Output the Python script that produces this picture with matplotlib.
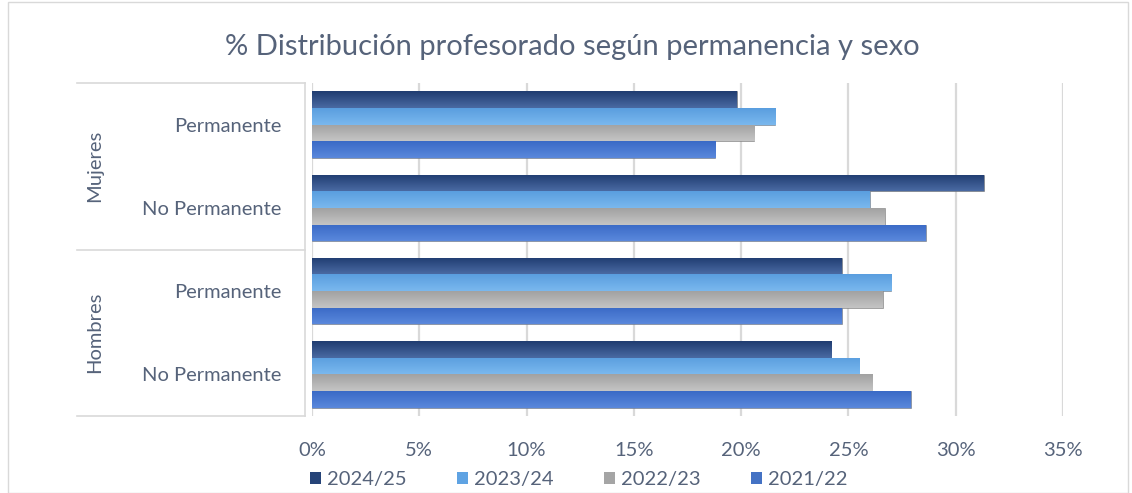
import numpy as np
import matplotlib.pyplot as plt
import matplotlib as mpl
from matplotlib.patches import Patch, Rectangle
from matplotlib.colors import LinearSegmentedColormap

plt.rcParams['font.family'] = ['Lato', 'DejaVu Sans']

# data (% of teaching staff)
groups = ['Mujeres', 'Hombres']
categories = ['Permanente', 'No Permanente', 'Permanente', 'No Permanente']
years = ['2024/25', '2023/24', '2022/23', '2021/22']
v_2024_25 = [19.8, 31.3, 24.7, 24.2]
v_2023_24 = [21.6, 26.0, 27.0, 25.5]
v_2022_23 = [20.6, 26.7, 26.6, 26.1]
v_2021_22 = [18.8, 28.6, 24.7, 27.9]
series = [v_2024_25, v_2023_24, v_2022_23, v_2021_22]

# (top colour, bottom colour) for the Excel-like gradient
colors = [('#4a6aa3', '#1f3c70'),
          ('#7ab8ee', '#5a9edf'),
          ('#c4c4c4', '#a2a2a2'),
          ('#5a88dc', '#3a6ac6')]
flat = ['#264478', '#5fa3e3', '#a5a5a5', '#4472c4']
text_col = '#56637a'

fig = plt.figure(figsize=(11.32, 4.93), dpi=100)
ax = fig.add_axes([312 / 1132, 1 - 416 / 493, 751 / 1132, 333 / 493])

y = np.arange(len(categories))
h = 0.2
grad = np.linspace(0, 1, 64).reshape(-1, 1)
for i, vals in enumerate(series):
    pos = y - 0.3 + i * h
    bars = ax.barh(pos, vals, height=h, color=flat[i], edgecolor='#7f7f7f',
                   linewidth=0.4, zorder=3)
    cmap = LinearSegmentedColormap.from_list('g%d' % i, colors[i])
    for b in bars:
        bx, by = b.get_x(), b.get_y()
        im = ax.imshow(grad, cmap=cmap, aspect='auto', zorder=3.5,
                       extent=(bx, bx + b.get_width(), by, by + b.get_height()),
                       origin='upper', interpolation='bilinear')
        im.set_clip_path(b)

ax.set_xlim(0, 35)
ax.set_ylim(3.5, -0.5)
ax.set_aspect('auto')
ax.set_xticks(np.arange(0, 36, 5))
ax.set_xticklabels(['%d%%' % t for t in range(0, 36, 5)])
ax.xaxis.grid(True, color='#d9d9d9', linewidth=1.6, zorder=0)
ax.set_axisbelow(True)
ax.set_yticks(y)
ax.set_yticklabels(categories)
ax.tick_params(axis='x', length=0, pad=19, labelsize=14.5, labelcolor=text_col)
ax.tick_params(axis='y', length=0, pad=22, labelsize=14.5, labelcolor=text_col)
for s in ax.spines.values():
    s.set_visible(False)

# hierarchical axis: separator lines and group labels
tr = ax.get_yaxis_transform()
x_in = -7 / 751
x_out = (77 - 312) / 751
ax.plot([x_in, x_in], [-0.5, 3.5], color='#d9d9d9', lw=1.2, transform=tr, clip_on=False)
for yy in [-0.5, 1.5, 3.5]:
    ax.plot([x_out, x_in], [yy, yy], color='#d9d9d9', lw=1.2, transform=tr, clip_on=False)
for gi, g in enumerate(groups):
    ax.text((95 - 312) / 751, 0.5 + 2 * gi, g, rotation=90, ha='center', va='center',
            fontsize=14.5, color=text_col, transform=tr)

fig.text(572 / 1132, 1 - 47 / 493, '% Distribución profesorado según permanencia y sexo',
         ha='center', va='center', fontsize=21, color=text_col)

handles = [Patch(facecolor=flat[i], edgecolor='none') for i in range(4)]
fig.legend(handles, years, loc='center', bbox_to_anchor=(579 / 1132, 1 - 480 / 493),
           ncol=4, frameon=False, fontsize=14.5, labelcolor=text_col,
           handlelength=0.55, handleheight=0.55, handletextpad=0.3, columnspacing=2.5)

fig.patches.append(Rectangle((8 / 1132, 0), 1120 / 1132, 0.995, transform=fig.transFigure,
                             fill=False, edgecolor='#d9d9d9', lw=1))

fig.savefig('out.png', dpi=100)
